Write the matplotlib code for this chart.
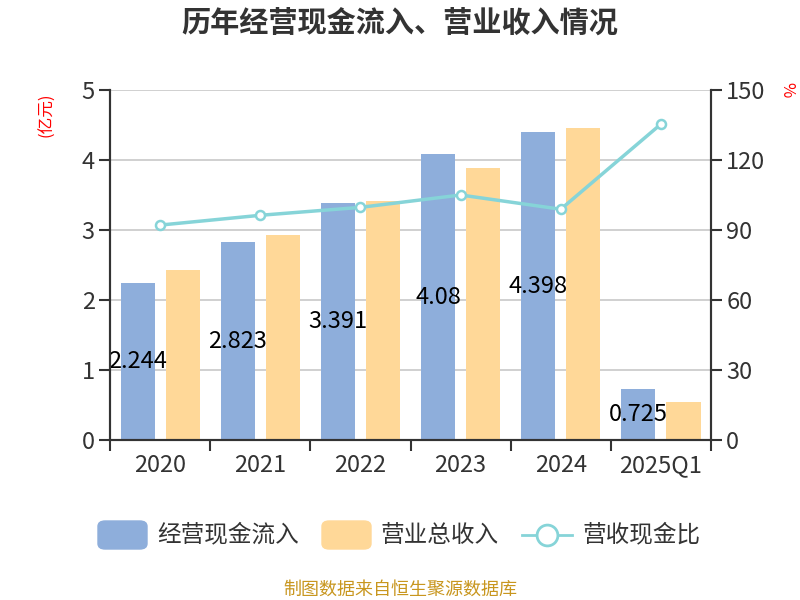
import numpy as np
import matplotlib
matplotlib.use("Agg")
import matplotlib.pyplot as plt
from matplotlib.lines import Line2D
from matplotlib.patches import FancyBboxPatch

plt.rcParams['font.family'] = ['Noto Sans CJK SC', 'DejaVu Sans']

years = ["2020", "2021", "2022", "2023", "2024", "2025Q1"]
cash_in = [2.244, 2.823, 3.391, 4.08, 4.398, 0.725]
revenue = [2.43, 2.93, 3.41, 3.886, 4.45, 0.54]
ratio = [92.1, 96.3, 99.7, 105.0, 98.9, 135.4]

BLUE = "#8eaedb"
ORANGE = "#ffd898"
TEAL = "#86d4d8"
AXIS = "#333333"

fig = plt.figure(figsize=(8, 6), dpi=100)
ax = fig.add_axes([0.1375, 0.2667, 0.7513, 0.5833])
ax2 = ax.twinx()

x = np.arange(len(years))
w = 0.34
off = 0.225
ax.bar(x - off, cash_in, w, color=BLUE, zorder=2)
ax.bar(x + off, revenue, w, color=ORANGE, zorder=2)
for xi, v in zip(x, cash_in):
    ax.text(xi - off, v / 2, str(v), ha="center", va="center", fontsize=17,
            color="black", zorder=5)

ax2.plot(x, ratio, color=TEAL, lw=2.5, marker="o", ms=6.5,
         mfc="white", mec=TEAL, mew=1.8, zorder=4)

ax.set_xlim(-0.5, 5.5)
ax.set_ylim(0, 5)
ax2.set_ylim(0, 150)
ax.set_yticks(range(6))
ax2.set_yticks(range(0, 151, 30))
ax.set_xticks(x)
ax.set_xticklabels(years)
ax.set_xticks(np.arange(-0.5, 6, 1), minor=True)
ax.tick_params(axis="x", which="major", length=0, pad=10, labelsize=17,
               labelcolor=AXIS)
ax.tick_params(axis="x", which="minor", length=8, width=1.5, color=AXIS,
               direction="out")
ax.tick_params(axis="y", length=8, width=1.5, color=AXIS, labelsize=17,
               labelcolor=AXIS, pad=3)
ax2.tick_params(axis="y", length=8, width=1.5, color=AXIS, labelsize=17,
                labelcolor=AXIS, pad=3)
ax.grid(axis="y", color="#c8c8c8", lw=1.2, zorder=0)
ax.set_axisbelow(True)

for a in (ax, ax2):
    a.spines["top"].set_visible(False)
    for s in ("left", "right", "bottom"):
        a.spines[s].set_color(AXIS)
        a.spines[s].set_linewidth(1.5)

fig.text(0.5, 0.962, "历年经营现金流入、营业收入情况", ha="center", va="center",
         fontsize=21, fontweight="bold", color="#333333")
fig.text(0.058, 0.808, "(亿元)", ha="center", va="center", fontsize=12,
         color="red", rotation=90)
fig.text(0.983, 0.85, "%", ha="center", va="center", fontsize=12,
         color="red", rotation=-90)

# legend
ly = 1 - 535 / 600
fig.patches.append(FancyBboxPatch((98 / 800, ly - 14 / 600), 49 / 800, 28 / 600,
                                  boxstyle="round,pad=0,rounding_size=0.009",
                                  transform=fig.transFigure, color=BLUE))
fig.text(157 / 800, ly, "经营现金流入", ha="left", va="center", fontsize=17,
         color=AXIS)
fig.patches.append(FancyBboxPatch((322 / 800, ly - 14 / 600), 49 / 800, 28 / 600,
                                  boxstyle="round,pad=0,rounding_size=0.009",
                                  transform=fig.transFigure, color=ORANGE))
fig.text(380 / 800, ly, "营业总收入", ha="left", va="center", fontsize=17,
         color=AXIS)
fig.lines.append(Line2D([522 / 800, 572 / 800], [ly, ly], transform=fig.transFigure,
                        color=TEAL, lw=2))
fig.lines.append(Line2D([547 / 800], [ly], transform=fig.transFigure,
                        marker="o", ms=15, mfc="white", mec=TEAL, mew=2))
fig.text(582 / 800, ly, "营收现金比", ha="left", va="center", fontsize=17,
         color=AXIS)

fig.text(0.5, 1 - 590 / 600, "制图数据来自恒生聚源数据库", ha="center", va="center",
         fontsize=13, color="#c8961e")

fig.savefig("out.png", dpi=100)
